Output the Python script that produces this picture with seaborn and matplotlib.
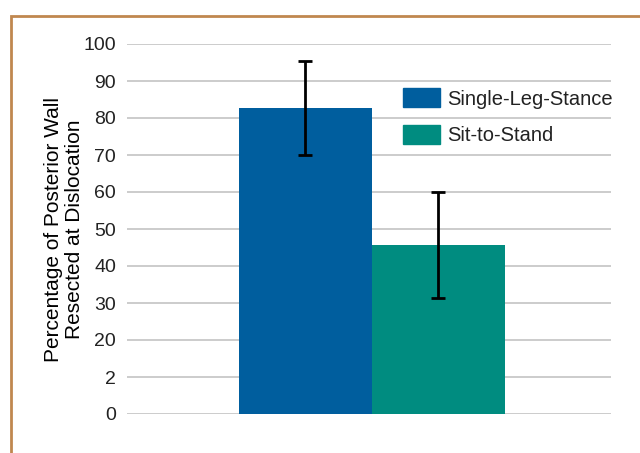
import matplotlib
matplotlib.use("Agg")
import matplotlib.pyplot as plt
import matplotlib.patches as mpatches
import seaborn as sns
import pandas as pd

# ---- data ----
tests = ["Single-Leg-Stance", "Sit-to-Stand"]
means = [82.7, 45.6]
errors = [12.8, 14.3]
colors = ["#005E9E", "#008C80"]
ytick_values = [0, 10, 20, 30, 40, 50, 60, 70, 80, 90, 100]
ytick_labels = ["0", "2", "20", "30", "40", "50", "60", "70", "80", "90", "100"]
ylabel = "Percentage of Posterior Wall\nResected at Dislocation"

sns.set_theme(style="white")
plt.rcParams["font.family"] = ["Liberation Sans", "DejaVu Sans"]

df = pd.DataFrame({"group": ["all"] * len(tests), "test": tests, "pct": means})

fig = plt.figure(figsize=(6.4, 4.53), dpi=100)
ax = fig.add_axes([127 / 640, 1 - 414 / 453, (611 - 127) / 640, (414 - 44) / 453])

sns.barplot(data=df, x="group", y="pct", hue="test", hue_order=tests,
            palette=colors, width=0.55, errorbar=None, saturation=1,
            ax=ax, legend=False, zorder=2, linewidth=0)

# error bars
bars = [p for p in ax.patches][:len(tests)]
for p, m, e in zip(bars, means, errors):
    cx = p.get_x() + p.get_width() / 2
    ax.errorbar(cx, m, yerr=e, fmt="none", ecolor="black", elinewidth=2.0,
                capsize=4.7, capthick=2.0, zorder=3)

ax.set_ylim(0, 100)
ax.set_xlim(-0.506, 0.494)
ax.set_yticks(ytick_values)
ax.set_yticklabels(ytick_labels)
ax.tick_params(axis="y", length=0, pad=8, labelsize=14, labelcolor="#222222")
ax.set_xticks([])
ax.set_xlabel("")
ax.yaxis.grid(True, color="#c8c8c8", linewidth=1.3, zorder=0)
ax.set_axisbelow(True)
for s in ax.spines.values():
    s.set_visible(False)

ax.set_ylabel(ylabel, fontsize=15, color="black", linespacing=1.15)
ax.yaxis.set_label_coords(-0.088, 0.5)

handles = [mpatches.Patch(color=c, label=t) for c, t in zip(colors, tests)]
leg = ax.legend(handles=handles, frameon=False, loc="upper left",
                bbox_to_anchor=((403 - 127) / 484, (414 - 88) / 370),
                borderaxespad=0, borderpad=0, fontsize=14.5,
                handlelength=1.85, handleheight=1.1, handletextpad=0.35,
                labelspacing=0.8)
for t in leg.get_texts():
    t.set_color("#222222")

# decorative frame
fig.patches.append(mpatches.Rectangle((11 / 640, -0.2), 2.0, (1 - 16 / 453) + 0.2,
                                      transform=fig.transFigure, fill=False,
                                      edgecolor="#C0874F", linewidth=2.0,
                                      clip_on=False))

fig.savefig("out.png", dpi=100)
